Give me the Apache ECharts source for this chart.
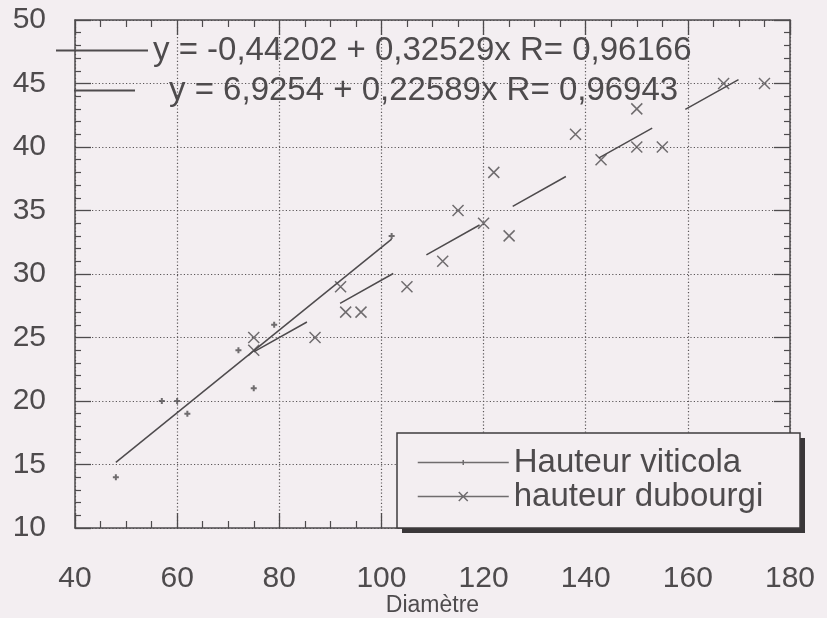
<!DOCTYPE html>
<html>
<head>
<meta charset="utf-8">
<title>Hauteur / Diamètre</title>
<script src="https://cdn.jsdelivr.net/npm/echarts@6/dist/echarts.min.js"></script>
<style>
  html, body { margin: 0; padding: 0; background: #f3eef1; }
  #chart { width: 827px; height: 618px; }
</style>
</head>
<body>
<div id="chart"></div>
<script>
// valeurs
var diamViticola = [48, 57, 60, 62, 72, 75, 79, 102]
var hautViticola = [14, 20, 20, 19, 24, 21, 26, 33]

var diamDubourgi = [75, 75, 87, 92, 93, 96, 105, 112, 115, 120, 122, 125, 138, 143, 150, 150, 155, 167, 175]
var hautDubourgi = [25, 24, 25, 29, 27, 27, 29, 31, 35, 34, 38, 33, 41, 39, 43, 40, 40, 45, 45]

// droites de régression (extrémités)
var fitViticolaX = [48, 102]
var fitViticolaY = [15.17, 32.74]
var fitDubourgiX = [75, 175]
var fitDubourgiY = [23.87, 46.46]

var nomViticola = 'Hauteur viticola'
var nomDubourgi = 'hauteur dubourgi'
var eqViticola = 'y = -0,44202 + 0,32529x R= 0,96166'
var eqDubourgi = 'y = 6,9254 + 0,22589x R= 0,96943'

function pairs(xs, ys) {
  return xs.map(function (x, i) { return [x, ys[i]] })
}

var ink = '#4e4b4d'
var paper = '#f3eef1'
var font = 'Liberation Sans'

var tickAxis = function (extra) {
  return Object.assign({
    type: 'value',
    axisLine: { show: true, lineStyle: { color: ink, width: 1.5 } },
    axisTick: { show: true, inside: true, length: 15, lineStyle: { color: ink, width: 1.3 } },
    minorTick: { show: true, length: 7, lineStyle: { color: ink, width: 1.2 } },
    splitLine: { show: false },
    axisLabel: { show: false }
  }, extra)
}

var chart = echarts.init(document.getElementById('chart'))

chart.setOption({
  animation: false,
  backgroundColor: paper,
  textStyle: { fontFamily: font, color: ink },
  grid: { left: 75, right: 37, top: 20, bottom: 90, outerBoundsMode: 'none', containLabel: false },
  xAxis: [
    tickAxis({
      min: 40, max: 180, interval: 20, position: 'bottom',
      minorTick: { show: true, splitNumber: 4, length: 7, lineStyle: { color: ink, width: 1.2 } },
      splitLine: { show: true, lineStyle: { color: '#5a5658', width: 1.2, type: [1.2, 2.2] } },
      axisLabel: { show: true, fontSize: 30, margin: 36, color: ink, fontFamily: font },
      name: 'Diamètre',
      nameLocation: 'middle',
      nameGap: 66,
      nameMoveOverlap: false,
      nameTextStyle: { fontSize: 23, color: ink, fontFamily: font }
    }),
    tickAxis({
      min: 40, max: 180, interval: 20, position: 'top',
      minorTick: { show: true, splitNumber: 4, length: 7, lineStyle: { color: ink, width: 1.2 } }
    })
  ],
  yAxis: [
    tickAxis({
      min: 10, max: 50, interval: 5, position: 'left',
      minorTick: { show: true, splitNumber: 5, length: 6, lineStyle: { color: ink, width: 1.2 } },
      axisTick: { show: true, inside: true, length: 16, lineStyle: { color: ink, width: 1.3 } },
      splitLine: { show: true, lineStyle: { color: '#5a5658', width: 1.2, type: [1.2, 2.2] } },
      axisLabel: { show: true, fontSize: 30, margin: 29, color: ink, fontFamily: font }
    }),
    tickAxis({
      min: 10, max: 50, interval: 5, position: 'right',
      minorTick: { show: true, splitNumber: 5, length: 6, lineStyle: { color: ink, width: 1.2 } },
      axisTick: { show: true, inside: true, length: 16, lineStyle: { color: ink, width: 1.3 } }
    })
  ],
  // cadre de la légende avec ombre portée
  graphic: [
    { type: 'rect', z: 3, shape: { x: 402, y: 438, width: 403, height: 95 }, style: { fill: '#3a3739' } },
    { type: 'rect', z: 3, shape: { x: 397, y: 433, width: 403, height: 95 }, style: { fill: paper, stroke: '#3f3c3e', lineWidth: 1.5 } }
  ],
  legend: [
    {
      left: 55, top: 34, padding: 0, z: 4,
      itemWidth: 92, itemHeight: 14,
      itemStyle: { opacity: 0 },
      data: [eqViticola],
      textStyle: { fontSize: 33, color: ink, fontFamily: font },
      selectedMode: false
    },
    {
      left: 73, top: 74, padding: 0, z: 4,
      itemWidth: 90, itemHeight: 14,
      itemStyle: { opacity: 0 },
      data: [eqDubourgi],
      textStyle: { fontSize: 33, color: ink, fontFamily: font },
      selectedMode: false
    },
    {
      left: 397, top: 433, z: 4,
      orient: 'vertical',
      padding: [13, 0, 14, 20],
      itemGap: 1,
      itemWidth: 91, itemHeight: 14,
      selectedMode: false,
      textStyle: { fontSize: 33, color: ink, fontFamily: font },
      data: [
        {
          name: nomViticola,
          icon: 'path://M0,0M91,14M0,7L91,7M45.5,4.5L45.5,9.5M43,7L48,7',
          itemStyle: { color: 'rgba(0,0,0,0)', borderColor: ink, borderWidth: 1.5 }
        },
        {
          name: nomDubourgi,
          icon: 'path://M0,0M91,14M0,7L91,7M41,2.5L50,11.5M50,2.5L41,11.5',
          itemStyle: { color: 'rgba(0,0,0,0)', borderColor: ink, borderWidth: 1.5 }
        }
      ]
    }
  ],
  series: [
    {
      name: eqViticola,
      type: 'line',
      data: pairs(fitViticolaX, fitViticolaY),
      symbol: 'none',
      itemStyle: { color: ink },
      lineStyle: { color: ink, width: 1.5 },
      silent: true
    },
    {
      name: eqDubourgi,
      type: 'line',
      data: pairs(fitDubourgiX, fitDubourgiY),
      symbol: 'none',
      itemStyle: { color: ink },
      lineStyle: { color: ink, width: 1.5, type: [61, 38] },
      silent: true
    },
    {
      name: nomViticola,
      type: 'scatter',
      data: pairs(diamViticola, hautViticola),
      symbol: 'path://M3,0L3,6M0,3L6,3',
      symbolSize: 6,
      itemStyle: { color: 'rgba(0,0,0,0)', borderColor: ink, borderWidth: 2 },
      silent: true
    },
    {
      name: nomDubourgi,
      type: 'scatter',
      data: pairs(diamDubourgi, hautDubourgi),
      symbol: 'path://M0,0L10,10M10,0L0,10',
      symbolSize: 11,
      itemStyle: { color: 'rgba(0,0,0,0)', borderColor: ink, borderWidth: 1.5 },
      silent: true
    }
  ]
})
</script>
</body>
</html>
